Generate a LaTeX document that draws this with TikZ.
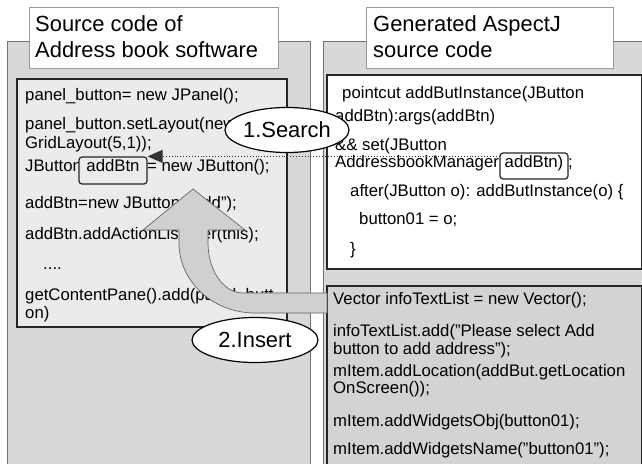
\documentclass[tikz,border=0pt]{standalone}
\usepackage{fontspec}
\setmainfont{Liberation Sans}
\usetikzlibrary{arrows.meta,shapes.geometric}
\definecolor{panelgray}{HTML}{D8D8D8}
\definecolor{codegray}{HTML}{EBEBEB}
\definecolor{insertgray}{HTML}{D3D3D3}
\definecolor{bandgray}{HTML}{D0D0D0}
\begin{document}
\begin{tikzpicture}[x=1bp,y=-1bp,
  panel/.style={fill=panelgray,draw=black!55,line width=0.8bp},
  titlebox/.style={fill=white,draw=black!40,line width=0.8bp},
  codebox/.style={draw=black!85,line width=1.2bp},
  titletext/.style={anchor=base west,inner sep=0pt,font=\fontsize{22}{24}\selectfont},
  code/.style={anchor=base west,inner sep=0pt,font=\fontsize{16.8}{18}\selectfont},
  idbox/.style={draw=black!85,line width=1.2bp,rounded corners=3bp,inner sep=0pt,
    text height=12bp,text depth=9bp,minimum height=27bp,minimum width=68bp,anchor=base,
    font=\fontsize{16.8}{18}\selectfont},
  step label/.style={ellipse,draw=black,line width=1.2bp,fill=white,inner sep=0pt,
    font=\fontsize{22}{24}\selectfont}]
% canvas
\fill[white] (0,0) rectangle (642,464);
\clip (0,0) rectangle (642,464);

% grey panels
\draw[panel] (7,41) rectangle (310,470);
\draw[panel] (323,41) rectangle (650,470);

% panel titles
\draw[titlebox] (29,7) rectangle (278,68);
\node[titletext] (tl1) at (35,32) {Source code of};
\node[titletext] (tl2) at (35,58) {Address book software};
\draw[titlebox] (366,7) rectangle (613,68);
\node[titletext] (tr1) at (373,32) {Generated AspectJ};
\node[titletext] (tr2) at (373,58) {source code};

% application source code
\draw[codebox,fill=codegray] (17,79) rectangle (287,327);
\node[code] (l1) at (25,101) {panel\_button= new JPanel();};
\node[code] (l2) at (25,130) {panel\_button.setLayout(new};
\node[code] (l3) at (25,149) {GridLayout(5,1));};
\node[code] (l4a) at (25,172) {JButton};
\node[code] (l4c) at (147,172) {= new JButton();};
\node[idbox,fill=codegray] (lbtn) at (113,172) {addBtn};
\node[code] (l5) at (25,209) {addBtn=new JButton("Add");};
\node[code] (l6) at (25,240) {addBtn.addActionListener(this);};
\node[code] (l7) at (43,270) {....};
\node[code] (l8) at (25,301) {getContentPane().add(panel\_butt};
\node[code] (l9) at (25,319) {on)};

% generated aspect
\draw[codebox,fill=white] (327,75) rectangle (641.4,269);
\node[code] (r1) at (342,99) {pointcut addButInstance(JButton};
\node[code] (r2) at (335,122) {addBtn):args(addBtn)};
\node[code] (r3) at (335,151) {\&\& set(JButton};
\node[code] (r4a) at (335,168) {AddressbookManager};
\node[idbox,fill=white,text height=13bp,text depth=9bp,minimum height=26bp] (rbtn) at (534,168) {addBtn)};
\node[code] (r4c) at (568,168) {;};
\node[code] (r5) at (350,197) {after(JButton o): addButInstance(o) \{};
\node[code] (r6) at (359,225) {button01 = o;};
\node[code] (r7) at (350,255) {\}};

% code inserted into the application
\draw[codebox,fill=insertgray] (327,286) rectangle (641.4,470);
\node[code] (b1) at (333,305) {Vector infoTextList = new Vector();};
\node[code] (b2) at (333,336) {infoTextList.add("Please select Add};
\node[code] (b3) at (333,354) {button to add address");};
\node[code] (b4) at (333,376) {mItem.addLocation(addBut.getLocation};
\node[code] (b5) at (333,393) {OnScreen());};
\node[code] (b6) at (333,426) {mItem.addWidgetsObj(button01);};
\node[code] (b7) at (333,454) {mItem.addWidgetsName("button01");};

% curved insertion arrow
\filldraw[fill=bandgray,draw=black!60,line width=0.7bp]
  (193,189) -- (245,230) -- (208,230) -- (208,243)
  .. controls (208,270.6) and (223.7,293) .. (243,293)
  -- (327,293) -- (327,313) -- (255,313)
  .. controls (213,313) and (179,281.7) .. (179,243)
  -- (179,230) -- (143,230) -- cycle;

% step labels
\node[step label,minimum width=121bp,minimum height=45bp] (search) at (287,130) {1.Search};
\node[step label,minimum width=126bp,minimum height=45bp] (insert) at (255,340) {2.Insert};

% search link between the two identifiers
\draw[dotted,line width=0.9bp,black!80,-{Triangle[length=15bp,width=13bp]}]
  (rbtn.west |- lbtn.north east) -- (lbtn.north east);
\end{tikzpicture}
\end{document}
